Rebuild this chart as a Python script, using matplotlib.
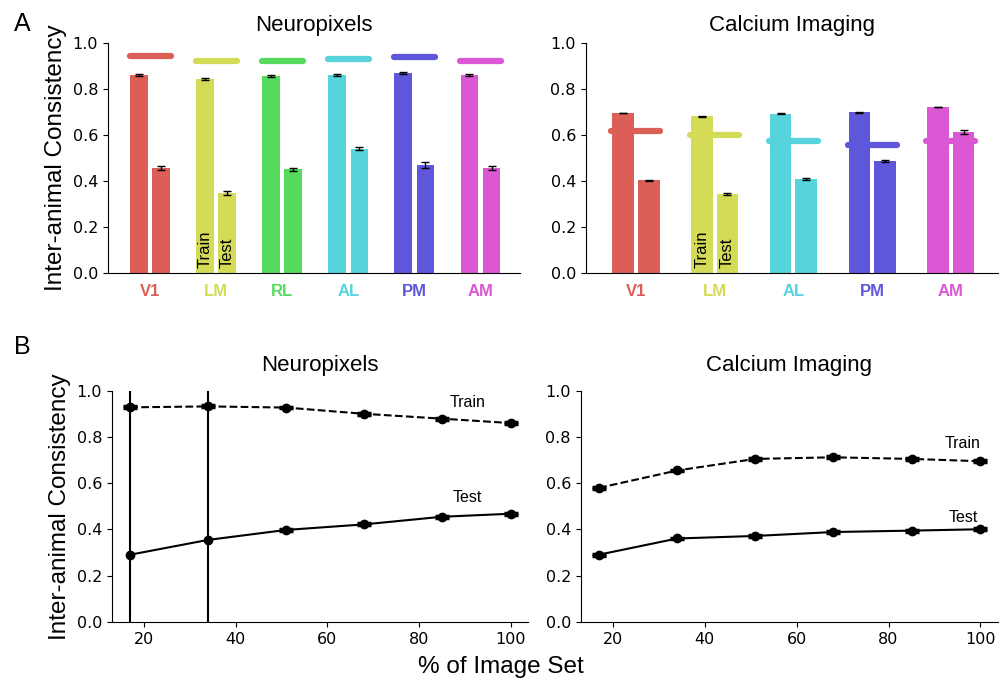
import matplotlib.pyplot as plt
import numpy as np

# panel A: Neuropixels
np_areas = ["V1", "LM", "RL", "AL", "PM", "AM"]
np_train = [0.862, 0.845, 0.857, 0.862, 0.870, 0.860]
np_train_err = [0.003, 0.004, 0.003, 0.003, 0.004, 0.004]
np_test = [0.456, 0.348, 0.450, 0.540, 0.470, 0.457]
np_test_err = [0.007, 0.010, 0.008, 0.006, 0.012, 0.008]
np_ceiling = [0.945, 0.924, 0.923, 0.933, 0.942, 0.923]

# panel A: Calcium Imaging
ca_areas = ["V1", "LM", "AL", "PM", "AM"]
ca_train = [0.696, 0.682, 0.692, 0.700, 0.722]
ca_train_err = [0.002, 0.002, 0.002, 0.002, 0.002]
ca_test = [0.403, 0.343, 0.407, 0.486, 0.613]
ca_test_err = [0.002, 0.003, 0.004, 0.005, 0.007]
ca_ceiling = [0.616, 0.600, 0.575, 0.558, 0.573]

area_colors = {
    "V1": "#db5f57", "LM": "#d3db57", "RL": "#57db5e",
    "AL": "#57d3db", "PM": "#5f57db", "AM": "#db57d3",
}

# panel B: consistency vs % of image set
pct = [17, 34, 51, 68, 85, 100]
npx_train = [0.928, 0.932, 0.927, 0.900, 0.879, 0.860]
npx_train_err = [0.004, 0.004, 0.004, 0.004, 0.004, 0.004]
npx_test = [0.291, 0.355, 0.398, 0.422, 0.455, 0.468]
npx_test_err = [0.9, 0.9, 0.004, 0.004, 0.004, 0.004]
cal_train = [0.580, 0.655, 0.705, 0.712, 0.705, 0.695]
cal_train_err = [0.004, 0.004, 0.004, 0.004, 0.004, 0.004]
cal_test = [0.291, 0.361, 0.372, 0.389, 0.395, 0.401]
cal_test_err = [0.004, 0.004, 0.004, 0.004, 0.004, 0.004]

SANS = ["Liberation Sans", "DejaVu Sans"]
plt.rcParams["font.family"] = "DejaVu Sans"


def bar_panel(ax, areas, train, train_err, test, test_err, ceiling, title, off, width, half):
    x = np.arange(len(areas))
    cols = [area_colors[a] for a in areas]
    ax.bar(x - off, train, width, color=cols, yerr=train_err, capsize=3,
           error_kw=dict(ecolor="black", elinewidth=1, capthick=1))
    ax.bar(x + off, test, width, color=cols, yerr=test_err, capsize=3,
           error_kw=dict(ecolor="black", elinewidth=1, capthick=1))
    for i, c in enumerate(ceiling):
        ax.plot([x[i] - half, x[i] + half], [c, c], color=cols[i], lw=4.5,
                solid_capstyle="round", zorder=3)
    ax.set_ylim(0, 1)
    ax.set_xlim(-0.5 - off * 0.85, len(areas) - 0.5 + off * 0.6)
    ax.set_xticks(x)
    ax.set_xticklabels(areas, fontsize=12, fontweight="bold", family=SANS)
    for lbl, c in zip(ax.get_xticklabels(), cols):
        lbl.set_color(c)
    ax.tick_params(axis="x", length=0, pad=8)
    ax.tick_params(axis="y", labelsize=11.5)
    ax.set_yticks(np.arange(0, 1.01, 0.2))
    ax.spines["top"].set_visible(False)
    ax.spines["right"].set_visible(False)
    ax.set_title(title, fontsize=16, family=SANS, pad=9)
    ax.text(x[1] - off, 0.02, "Train", rotation=90, ha="center", va="bottom",
            fontsize=12, family=SANS)
    ax.text(x[1] + off, 0.02, "Test", rotation=90, ha="center", va="bottom",
            fontsize=12, family=SANS)


def line_panel(ax, tr, tr_err, te, te_err, title, train_pos, test_pos):
    ax.errorbar(pct, tr, yerr=tr_err, color="black", ls="--", marker="o", ms=6,
                capsize=5, capthick=2.5, lw=1.5)
    ax.errorbar(pct, te, yerr=te_err, color="black", ls="-", marker="o", ms=6,
                capsize=5, capthick=2.5, lw=1.5)
    ax.set_ylim(0, 1)
    ax.set_xlim(13, 103.8)
    ax.set_xticks([20, 40, 60, 80, 100])
    ax.set_yticks(np.arange(0, 1.01, 0.2))
    ax.tick_params(labelsize=11.5)
    ax.spines["top"].set_visible(False)
    ax.spines["right"].set_visible(False)
    ax.set_title(title, fontsize=16, family=SANS, pad=14)
    ax.text(train_pos[0], train_pos[1], "Train", ha="center", va="center",
            fontsize=11.5, family=SANS)
    ax.text(test_pos[0], test_pos[1], "Test", ha="center", va="center",
            fontsize=11.5, family=SANS)


fig = plt.figure(figsize=(10.08, 6.83), dpi=100)

ax1 = fig.add_axes([0.107, 0.6007, 0.409, 0.336])
ax2 = fig.add_axes([0.581, 0.6007, 0.409, 0.336])
ax3 = fig.add_axes([0.111, 0.0893, 0.413, 0.3387])
ax4 = fig.add_axes([0.576, 0.0893, 0.414, 0.3387])

bar_panel(ax1, np_areas, np_train, np_train_err, np_test, np_test_err,
          np_ceiling, "Neuropixels", 0.167, 0.27, 0.31)
bar_panel(ax2, ca_areas, ca_train, ca_train_err, ca_test, ca_test_err,
          ca_ceiling, "Calcium Imaging", 0.1625, 0.275, 0.31)

line_panel(ax3, npx_train, npx_train_err, npx_test, npx_test_err,
           "Neuropixels", (90.6, 0.95), (90.5, 0.54))
line_panel(ax4, cal_train, cal_train_err, cal_test, cal_test_err,
           "Calcium Imaging", (96.2, 0.77), (96.2, 0.45))

ax1.set_ylabel("Inter-animal Consistency", fontsize=17.5, family=SANS)
ax3.set_ylabel("Inter-animal Consistency", fontsize=17.5, family=SANS)
fig.text(0.497, 0.024, "% of Image Set", ha="center", va="center",
         fontsize=17.5, family=SANS)
fig.text(0.014, 0.965, "A", fontsize=18, family=SANS, va="center")
fig.text(0.014, 0.492, "B", fontsize=18, family=SANS, va="center")

fig.savefig("out.png", dpi=100)
